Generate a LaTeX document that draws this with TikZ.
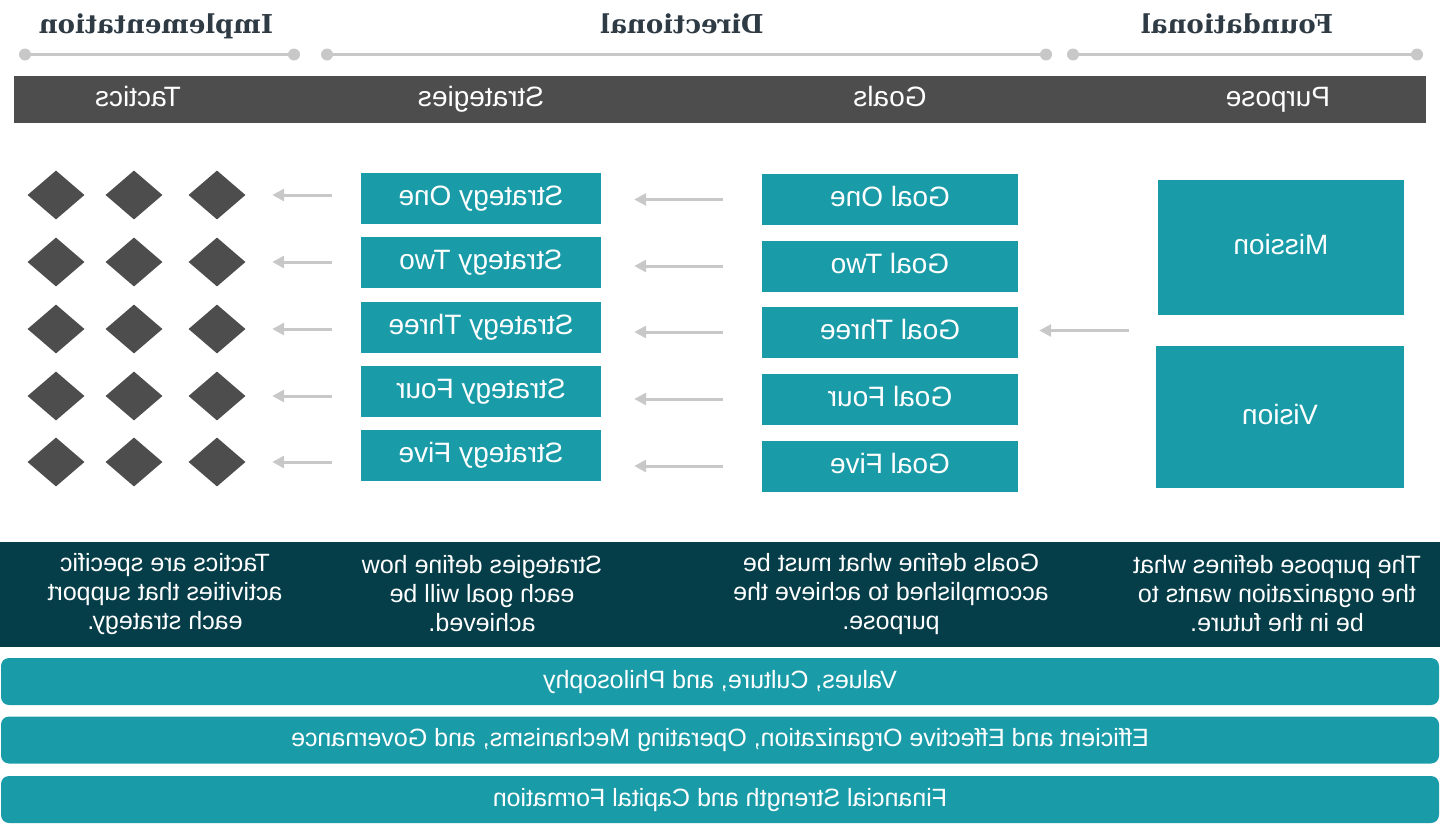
\documentclass[tikz,border=0pt]{standalone}
\usepackage{fontspec}
\setmainfont{Liberation Sans}
\newfontfamily\titlefont{DejaVu Serif}
\usepackage{graphicx}
\usetikzlibrary{shapes.geometric,arrows.meta,calc}
\definecolor{tealbox}{HTML}{1A9BA8}
\definecolor{panelcol}{HTML}{053E49}
\definecolor{bargray}{HTML}{4D4D4D}
\definecolor{linegray}{HTML}{C8C8C8}
\definecolor{titlecol}{HTML}{2E3A44}
\begin{document}
\begin{tikzpicture}[x=1pt,y=-1pt,
  box/.style={fill=tealbox, draw=none, text=white, inner sep=0pt, text height=20pt, text depth=6pt, font=\fontsize{28}{32}\selectfont},
  dia/.style={diamond, fill=bargray, draw=none, minimum width=57pt, minimum height=49pt, inner sep=0pt},
  arr/.style={draw=linegray, line width=3pt, -{Triangle[length=12pt,width=12pt]}},
  sepline/.style={draw=linegray, line width=3pt},
  dotc/.style={fill=linegray},
  hdr/.style={xscale=-1, text=white, anchor=base, inner sep=0pt, font=\fontsize{28}{32}\selectfont},
  ttl/.style={xscale=-1, text=titlecol, anchor=base, inner sep=0pt, font=\titlefont\bfseries\fontsize{26}{30}\selectfont},
  desc/.style={xscale=-1, text=white, align=center, inner sep=0pt, font=\fontsize{25}{29}\selectfont},
  found/.style={fill=tealbox, draw=none, rounded corners=8pt, text=white, inner sep=0pt, minimum width=1438pt, minimum height=47pt, text height=18pt, text depth=5pt, font=\fontsize{25}{29}\selectfont}
]
\useasboundingbox (0,0) rectangle (1440,830);

% titles
\node[ttl] (timpl) at (156,33) {Implementation};
\node[ttl] (tdir) at (682,33) {Directional};
\node[ttl] (tfound) at (1237,33) {Foundational};

% separator lines
\draw[sepline] (25,54.5) -- (294,54.5);
\draw[sepline] (327,54.5) -- (1046,54.5);
\draw[sepline] (1073,54.5) -- (1417,54.5);
\foreach \x in {25,294,327,1046,1073,1417} \fill[dotc] (\x,54.5) circle (6pt);

% header bar
\fill[bargray] (14,76) rectangle (1426,123);
\node[hdr] (htac) at (138,106) {Tactics};
\node[hdr] (hstr) at (481,106) {Strategies};
\node[hdr] (hgoal) at (890,106) {Goals};
\node[hdr] (hpur) at (1278,106) {Purpose};

% diamonds
\foreach \r/\y in {1/195,2/262,3/329,4/396,5/462}{
  \node[dia] (d\r1) at (56,\y) {};
  \node[dia] (d\r2) at (134,\y) {};
  \node[dia] (d\r3) at (217,\y) {};
}

% strategies
\foreach \r/\y/\t in {1/198/One,2/262.5/Two,3/327/Three,4/391/Four,5/455.5/Five}{
  \node[box, minimum width=240pt, minimum height=51pt] (s\r) at (481,\y) {\reflectbox{Strategy \t}};
}

% goals
\foreach \r/\y/\t in {1/199.5/One,2/266/Two,3/332/Three,4/399/Four,5/466/Five}{
  \node[box, minimum width=256pt, minimum height=51pt] (g\r) at (890,\y) {\reflectbox{Goal \t}};
}

% mission / vision
\node[box, minimum width=246pt, minimum height=135pt] (mission) at (1281,247.5) {\reflectbox{Mission}};
\node[box, minimum width=248pt, minimum height=142pt] (vision) at (1280,417) {\reflectbox{Vision}};

% arrows
\foreach \r in {1,...,5}{
  \draw[arr, shorten <=29pt, shorten >=26.5pt] (d\r3.east -| s\r.west) -- (d\r3.east);
  \draw[arr, shorten <=39pt, shorten >=33pt] (g\r.west) -- (g\r.west -| s\r.east);
}
\coordinate (mv) at ($(mission.south west)!0.5!(vision.north west)$);
\draw[arr, shorten <=28pt, shorten >=21pt] (mv) -- (mv -| g3.east);

% description panel
\fill[panelcol] (0,542) rectangle (1440,647);
\node[desc] (dtac) at (165,594) {Tactics are specific\\activities that support\\each strategy.};
\node[desc] (dstr) at (482,594) {Strategies define how\\each goal will be\\achieved.};
\node[desc] (dgoal) at (891,594) {Goals define what must be\\accomplished to achieve the\\purpose.};
\node[desc] (dpur) at (1277,594) {The purpose defines what\\the organization wants to\\be in the future.};

% foundations
\node[found] (f1) at (720,681.5) {\reflectbox{Values, Culture, and Philosophy}};
\node[found] (f2) at (720,740) {\reflectbox{Efficient and Effective Organization, Operating Mechanisms, and Governance}};
\node[found] (f3) at (720,799.5) {\reflectbox{Financial Strength and Capital Formation}};
\end{tikzpicture}
\end{document}
